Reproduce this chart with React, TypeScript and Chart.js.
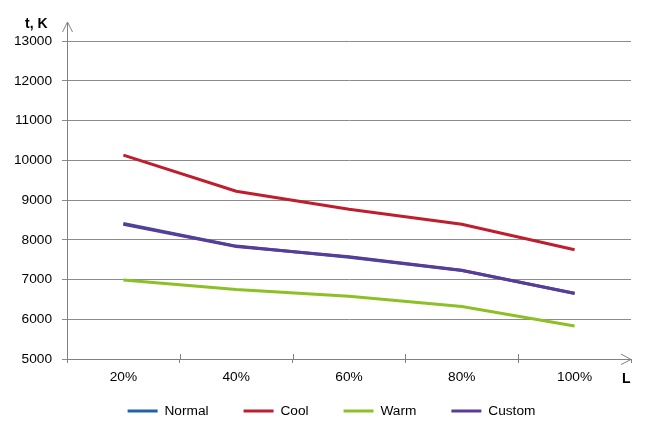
import React, { useEffect, useRef } from "react";
import { Chart, registerables } from "chart.js";

Chart.register(...registerables);

const categories = ["20%", "40%", "60%", "80%", "100%"];
const normalValues = [8410, 7840, 7560, 7225, 6655];
const coolValues = [10130, 9220, 8770, 8390, 7750];
const warmValues = [6990, 6750, 6580, 6320, 5830];
const customValues = [8390, 7830, 7570, 7235, 6650];
const yTicks = [5000, 6000, 7000, 8000, 9000, 10000, 11000, 12000, 13000];

const FONT = "'Liberation Sans', Arial, sans-serif";
const AXIS = "#808080";
const LEGEND_PAD = 35;
const LEGEND_FONT = 13.7;

const decorPlugin = {
  id: "decor",
  afterLayout(chart: any) {
    const lg = chart.legend;
    if (!lg) return;
    const targetTop = 411 - LEGEND_PAD - LEGEND_FONT / 2;
    const dy = targetTop - lg.top;
    lg.top += dy;
    lg.bottom += dy;
    lg.left += 12.5;
    lg.right += 12.5;
  },
  afterDraw(chart: any) {
    const { ctx, chartArea } = chart;
    const { left, right, top, bottom } = chartArea;
    const xs = chart.scales.x;
    ctx.save();
    ctx.strokeStyle = AXIS;
    ctx.lineWidth = 1;
    // y axis extension + arrow
    ctx.beginPath();
    ctx.moveTo(left + 0.5, top);
    ctx.lineTo(left + 0.5, top - 19);
    ctx.moveTo(left - 4.5, top - 9);
    ctx.lineTo(left + 0.5, top - 19);
    ctx.lineTo(left + 5.5, top - 9);
    ctx.stroke();
    // x axis arrow
    ctx.beginPath();
    ctx.moveTo(right - 10, bottom - 5);
    ctx.lineTo(right, bottom + 0.5);
    ctx.lineTo(right - 10, bottom + 5.5);
    ctx.stroke();
    // inward tick marks on x axis
    ctx.beginPath();
    for (let i = 1; i < categories.length; i++) {
      const px = Math.round(xs.getPixelForValue(i - 0.5)) + 0.5;
      ctx.moveTo(px, bottom - 5);
      ctx.lineTo(px, bottom);
    }
    ctx.stroke();
    // axis titles
    ctx.fillStyle = "#000";
    ctx.font = `bold 14px ${FONT}`;
    ctx.textBaseline = "alphabetic";
    ctx.textAlign = "left";
    ctx.fillText("t, K", 25, 28);
    ctx.fillText("L", 622, 382.5);
    ctx.restore();
  },
};

export default function App() {
  const ref = useRef<HTMLCanvasElement | null>(null);
  useEffect(() => {
    if (!ref.current) return;
    const mk = (label: string, data: number[], color: string, order: number) => ({
      label,
      data,
      borderColor: color,
      backgroundColor: color,
      borderWidth: 3,
      pointRadius: 0,
      tension: 0,
      order,
    });
    const chart = new Chart(ref.current, {
      type: "line",
      data: {
        labels: categories,
        datasets: [
          mk("Normal", normalValues, "#2360AC", 4),
          mk("Cool", coolValues, "#BE1E2D", 3),
          mk("Warm", warmValues, "#8CC024", 2),
          mk("Custom", customValues, "#5A3C98", 1),
        ],
      },
      options: {
        responsive: false,
        animation: false,
        devicePixelRatio: 1,
        layout: { padding: { left: 7, right: 19, top: 41, bottom: -7.7 } },
        plugins: {
          tooltip: { enabled: false },
          title: { display: false },
          legend: {
            position: "bottom",
            labels: {
              usePointStyle: true,
              pointStyle: "line",
              pointStyleWidth: 30,
              boxWidth: 30,
              boxHeight: 3,
              padding: LEGEND_PAD,
              color: "#000",
              font: { family: FONT, size: LEGEND_FONT },
              sort: (a: any, b: any) => a.datasetIndex - b.datasetIndex,
            },
          },
        },
        scales: {
          x: {
            type: "category",
            offset: true,
            afterFit(scale: any) {
              scale.height = 27;
            },
            grid: {
              offset: true,
              drawOnChartArea: false,
              drawTicks: true,
              tickLength: 4,
              color: AXIS,
            },
            border: { display: true, color: AXIS, width: 1 },
            ticks: {
              color: "#000",
              padding: 6,
              font: { family: FONT, size: 13.7 },
              maxRotation: 0,
            },
          },
          y: {
            min: 5000,
            max: 13000,
            afterFit(scale: any) {
              scale.width = 60;
            },
            afterBuildTicks(scale: any) {
              scale.ticks = yTicks.map((v) => ({ value: v }));
            },
            grid: {
              color: "#8C8C8C",
              tickLength: 5,
              drawTicks: true,
            },
            border: { display: true, color: AXIS, width: 1 },
            ticks: {
              color: "#000",
              padding: 10,
              font: { family: FONT, size: 13.7 },
              callback: (v: any) => String(v),
            },
          },
        },
      },
      plugins: [decorPlugin],
    });
    return () => chart.destroy();
  }, []);
  return (
    <div style={{ position: "absolute", left: 0, top: 0, width: 650, height: 437, background: "#fff" }}>
      <canvas ref={ref} width={650} height={437} />
    </div>
  );
}
